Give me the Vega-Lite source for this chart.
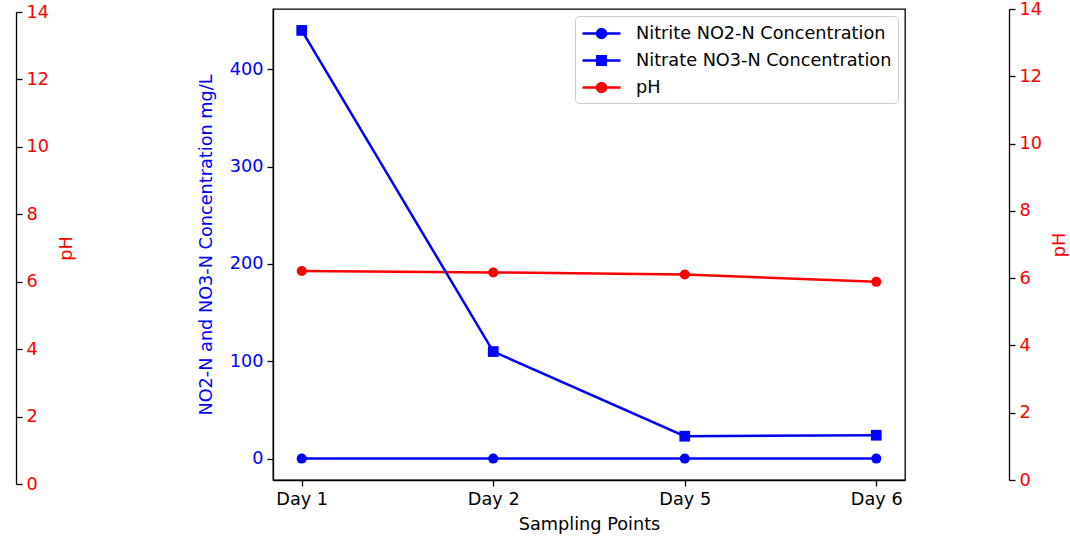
{
  "$schema": "https://vega.github.io/schema/vega-lite/v6.json",
  "width": 632,
  "height": 471,
  "autosize": {"type": "none"},
  "padding": {"left": 273, "top": 9, "right": 165, "bottom": 57},
  "background": "white",
  "config": {
    "font": "DejaVu Sans",
    "view": {"stroke": "black", "strokeWidth": 1.3},
    "axis": {
      "labelFont": "DejaVu Sans",
      "titleFont": "DejaVu Sans",
      "labelFontSize": 17.7,
      "titleFontSize": 17.7,
      "titleFontWeight": "normal",
      "grid": false,
      "domainColor": "black",
      "tickColor": "black",
      "tickSize": 6,
      "domainWidth": 1.3,
      "tickWidth": 1.3,
      "labelPadding": 4
    }
  },
  "data": {
    "values": [
      {"day": "Day 1", "series": "Nitrite NO2-N Concentration", "value": 0},
      {"day": "Day 2", "series": "Nitrite NO2-N Concentration", "value": 0},
      {"day": "Day 5", "series": "Nitrite NO2-N Concentration", "value": 0},
      {"day": "Day 6", "series": "Nitrite NO2-N Concentration", "value": 0},
      {"day": "Day 1", "series": "Nitrate NO3-N Concentration", "value": 440},
      {"day": "Day 2", "series": "Nitrate NO3-N Concentration", "value": 110},
      {"day": "Day 5", "series": "Nitrate NO3-N Concentration", "value": 23},
      {"day": "Day 6", "series": "Nitrate NO3-N Concentration", "value": 24},
      {"day": "Day 1", "series": "pH", "value": 6.21},
      {"day": "Day 2", "series": "pH", "value": 6.17},
      {"day": "Day 5", "series": "pH", "value": 6.11},
      {"day": "Day 6", "series": "pH", "value": 5.89}
    ]
  },
  "layer": [
    {
      "transform": [{"filter": "datum.series === 'pH'"}],
      "encoding": {
        "x": {"field": "day", "type": "ordinal", "scale": {"type": "point", "domain": ["Day 1", "Day 2", "Day 5", "Day 6"], "padding": 0.15}, "axis": {"title": "Sampling Points", "labelAngle": 0, "labelColor": "black", "titleColor": "black", "titlePadding": 8}},
        "y": {"field": "value", "type": "quantitative", "scale": {"domain": [0, 14], "nice": false, "zero": false}, "axis": {"orient": "right", "offset": 104, "title": "pH", "titleAngle": 270, "labelColor": "red", "titleColor": "red", "values": [0, 2, 4, 6, 8, 10, 12, 14], "titlePadding": 27}}
      },
      "layer": [
        {"mark": {"type": "line", "color": "red", "strokeWidth": 2.5}},
        {"mark": {"type": "point", "shape": "circle", "filled": true, "opacity": 1, "color": "red", "size": 100}}
      ]
    },
    {
      "transform": [{"filter": "datum.series !== 'pH'"}],
      "encoding": {
        "x": {"field": "day", "type": "ordinal", "scale": {"type": "point", "domain": ["Day 1", "Day 2", "Day 5", "Day 6"], "padding": 0.15}, "axis": {"title": "Sampling Points", "labelAngle": 0, "labelColor": "black", "titleColor": "black", "titlePadding": 8}},
        "y": {"field": "value", "type": "quantitative", "scale": {"domain": [-22, 462], "nice": false, "zero": false}, "axis": {"orient": "left", "title": "NO2-N and NO3-N Concentration mg/L", "labelColor": "blue", "titleColor": "blue", "values": [0, 100, 200, 300, 400], "titlePadding": 14}}
      },
      "layer": [
        {"mark": {"type": "line", "color": "blue", "strokeWidth": 2.5}, "encoding": {"detail": {"field": "series"}}},
        {"transform": [{"filter": "datum.series === 'Nitrite NO2-N Concentration'"}], "mark": {"type": "point", "shape": "circle", "filled": true, "opacity": 1, "color": "blue", "size": 100}},
        {"transform": [{"filter": "datum.series === 'Nitrate NO3-N Concentration'"}], "mark": {"type": "point", "shape": "square", "filled": true, "opacity": 1, "color": "blue", "size": 115}}
      ]
    },
    {
      "transform": [{"filter": "datum.series === 'pH'"}],
      "mark": {"type": "point", "opacity": 0},
      "encoding": {
        "y": {"field": "value", "type": "quantitative", "scale": {"domain": [0, 14], "nice": false, "zero": false, "range": [475, 3]}, "axis": {"orient": "right", "offset": -889, "title": "pH", "titleAngle": 270, "labelColor": "red", "titleColor": "red", "values": [0, 2, 4, 6, 8, 10, 12, 14], "titlePadding": 27}}
      }
    },
    {
      "mark": {"type": "point", "opacity": 0, "filled": true},
      "encoding": {
        "color": {
          "field": "series", "type": "nominal",
          "scale": {"domain": ["Nitrite NO2-N Concentration", "Nitrate NO3-N Concentration", "pH"], "range": ["blue", "blue", "red"]},
          "legend": {
            "title": null, "orient": "none", "legendX": 302, "legendY": 7,
            "fillColor": "rgba(255,255,255,0.8)", "strokeColor": "#cccccc", "cornerRadius": 4,
            "padding": 6, "rowPadding": 6, "labelOffset": 32, "labelLimit": 500,
            "labelFontSize": 17.7, "labelFont": "DejaVu Sans", "labelColor": "black",
            "symbolSize": 400, "symbolStrokeWidth": 2.5, "symbolOpacity": 1,
            "encode": {"symbols": {"update": {"fill": {"scale": "color", "field": "value"}, "stroke": {"scale": "color", "field": "value"}, "strokeWidth": {"value": 2.5}, "opacity": {"value": 1}}}}
          }
        },
        "shape": {
          "field": "series", "type": "nominal",
          "scale": {"domain": ["Nitrite NO2-N Concentration", "Nitrate NO3-N Concentration", "pH"], "range": ["M-1,0H2.8M1.35,0A0.45,0.45 0 1,1 0.45,0A0.45,0.45 0 1,1 1.35,0Z", "M-1,0H2.8M0.48,-0.42H1.32V0.42H0.48Z", "M-1,0H2.8M1.35,0A0.45,0.45 0 1,1 0.45,0A0.45,0.45 0 1,1 1.35,0Z"]},
          "legend": {
            "title": null, "orient": "none", "legendX": 302, "legendY": 7,
            "fillColor": "rgba(255,255,255,0.8)", "strokeColor": "#cccccc", "cornerRadius": 4,
            "padding": 6, "rowPadding": 6, "labelOffset": 32, "labelLimit": 500,
            "labelFontSize": 17.7, "labelFont": "DejaVu Sans", "labelColor": "black",
            "symbolSize": 400, "symbolStrokeWidth": 2.5, "symbolOpacity": 1,
            "encode": {"symbols": {"update": {"fill": {"scale": "color", "field": "value"}, "stroke": {"scale": "color", "field": "value"}, "strokeWidth": {"value": 2.5}, "opacity": {"value": 1}}}}
          }
        }
      }
    }
  ],
  "resolve": {"scale": {"y": "independent"}}
}
